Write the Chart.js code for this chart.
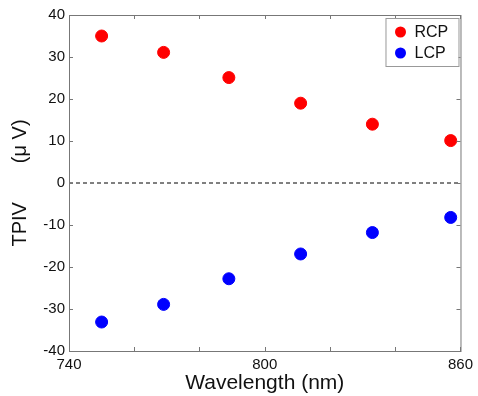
<!DOCTYPE html>
<html>
<head>
<meta charset="utf-8">
<script src="https://cdn.jsdelivr.net/npm/chart.js@4/dist/chart.umd.min.js"></script>
<style>
  html, body { margin: 0; padding: 0; background: #fff; }
  #wrap { width: 478px; height: 396px; }
</style>
</head>
<body>
<div id="wrap"><canvas id="tpivChart" width="478" height="396"></canvas></div>
<script>
// wavelength (nm)
const wavelengths = [750, 769, 789, 811, 833, 857];
const rcpValues = [35, 31.1, 25.1, 19, 14, 10.1];
const lcpValues = [-33.1, -28.9, -22.8, -16.9, -11.8, -8.2];
const xLabelTicks = [740, 800, 860];

const FONT = 'Arial, "Liberation Sans", sans-serif';

function toPoints(xs, ys) {
    return xs.map((x, i) => ({ x: x, y: ys[i] }));
}

// matlab-like box with inward ticks
const frameAndTicks = {
    id: 'frameAndTicks',
    afterDraw(chart) {
        const ctx = chart.ctx;
        const area = chart.chartArea;
        const xs = chart.scales.x;
        const ys = chart.scales.y;
        const len = 4;
        ctx.save();
        ctx.strokeStyle = '#777';
        ctx.lineWidth = 1;
        ctx.strokeRect(area.left + 0.5, area.top + 0.5, area.right - area.left, area.bottom - area.top);
        ctx.beginPath();
        xs.ticks.forEach(t => {
            const px = Math.round(xs.getPixelForValue(t.value)) + 0.5;
            ctx.moveTo(px, area.bottom);
            ctx.lineTo(px, area.bottom - len);
            ctx.moveTo(px, area.top);
            ctx.lineTo(px, area.top + len);
        });
        ys.ticks.forEach(t => {
            const py = Math.round(ys.getPixelForValue(t.value)) + 0.5;
            ctx.moveTo(area.left, py);
            ctx.lineTo(area.left + len, py);
            ctx.moveTo(area.right, py);
            ctx.lineTo(area.right - len, py);
        });
        ctx.stroke();
        ctx.restore();
    }
};

// legend box inside the top-right corner, built from the scatter datasets
const boxLegend = {
    id: 'boxLegend',
    afterDraw(chart) {
        const ctx = chart.ctx;
        const area = chart.chartArea;
        const items = chart.data.datasets.filter(d => d.type !== 'line');
        const w = 73, rowH = 21;
        const h = items.length * rowH + 6;
        const left = area.right - w - 2;
        const top = area.top + 3;
        ctx.save();
        ctx.fillStyle = '#fff';
        ctx.fillRect(left, top, w, h);
        ctx.strokeStyle = '#999';
        ctx.lineWidth = 1;
        ctx.strokeRect(left + 0.5, top + 0.5, w, h);
        ctx.font = '16px ' + FONT;
        ctx.textBaseline = 'middle';
        items.forEach((d, i) => {
            const cy = top + 14 + i * rowH;
            ctx.fillStyle = d.backgroundColor;
            ctx.beginPath();
            ctx.arc(left + 15, cy, 5.5, 0, Math.PI * 2);
            ctx.fill();
            ctx.fillStyle = '#111';
            ctx.fillText(d.label, left + 29, cy + 1);
        });
        ctx.restore();
    }
};

const ctx = document.getElementById('tpivChart').getContext('2d');

new Chart(ctx, {
    type: 'scatter',
    data: {
        datasets: [
            {
                label: 'RCP',
                data: toPoints(wavelengths, rcpValues),
                backgroundColor: '#ff0000',
                borderColor: '#ff0000',
                pointRadius: 6,
                pointHoverRadius: 6
            },
            {
                label: 'LCP',
                data: toPoints(wavelengths, lcpValues),
                backgroundColor: '#0000ff',
                borderColor: '#0000ff',
                pointRadius: 6,
                pointHoverRadius: 6
            },
            {
                label: 'zero',
                type: 'line',
                data: [{ x: 740, y: 0 }, { x: 860, y: 0 }],
                borderColor: '#000',
                borderWidth: 1,
                borderDash: [4, 3],
                pointRadius: 0,
                fill: false
            }
        ]
    },
    options: {
        responsive: false,
        animation: false,
        layout: {
            padding: { top: 15, right: 16, left: 0, bottom: 0 }
        },
        scales: {
            x: {
                type: 'linear',
                min: 740,
                max: 860,
                grid: { display: false, drawTicks: false },
                border: { display: false },
                ticks: {
                    stepSize: 20,
                    autoSkip: false,
                    maxRotation: 0,
                    padding: 5,
                    color: '#111',
                    font: { family: FONT, size: 15 },
                    callback: (v) => xLabelTicks.includes(v) ? String(v) : ''
                },
                title: {
                    display: true,
                    text: 'Wavelength (nm)',
                    color: '#111',
                    font: { family: FONT, size: 21 },
                    padding: { top: 0, bottom: 0 }
                },
                afterFit: (scale) => { scale.height = 45; }
            },
            y: {
                min: -40,
                max: 40,
                grid: { display: false, drawTicks: false },
                border: { display: false },
                ticks: {
                    stepSize: 10,
                    autoSkip: false,
                    padding: 4,
                    color: '#111',
                    font: { family: FONT, size: 15 }
                },
                title: {
                    display: true,
                    text: 'TPIV       (\u03BC V)',
                    color: '#111',
                    font: { family: FONT, size: 20 },
                    padding: { top: 8, bottom: 0 }
                },
                afterFit: (scale) => { scale.width = 69; }
            }
        },
        plugins: {
            legend: { display: false },
            tooltip: { enabled: false }
        }
    },
    plugins: [frameAndTicks, boxLegend]
});
</script>
</body>
</html>
